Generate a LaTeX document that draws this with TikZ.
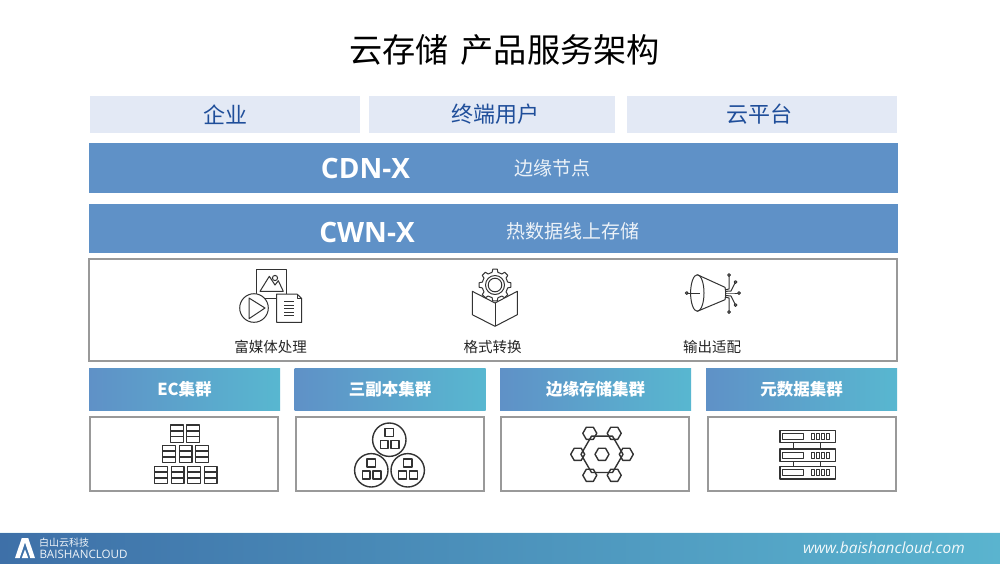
\documentclass[tikz,border=0pt]{standalone}
\usepackage{fontspec}
\setmainfont{Noto Sans CJK SC}
\newfontfamily\latinfont{Open Sans}
\usetikzlibrary{calc}
\definecolor{bandblue}{HTML}{5F91C7}
\definecolor{tealend}{HTML}{58B7D0}
\definecolor{paleblue}{HTML}{E3E9F5}
\definecolor{inkblue}{HTML}{1F4E9A}
\definecolor{framegray}{HTML}{999999}
\definecolor{iconink}{HTML}{333333}
\definecolor{footleft}{HTML}{3E70A8}
\definecolor{footright}{HTML}{5AB4CF}
\tikzset{
  userbox/.style={fill=paleblue, minimum height=37pt, inner sep=0pt, outer sep=0pt},
  usertext/.style={text=inkblue, font=\fontsize{22}{22}\selectfont, inner sep=0pt},
  band/.style={fill=bandblue, minimum width=809pt, inner sep=0pt, outer sep=0pt},
  bandtitle/.style={text=white, font=\latinfont\bfseries\fontsize{28}{28}\selectfont, inner sep=0pt},
  bandnote/.style={text=white!88!bandblue, font=\fontsize{19}{19}\selectfont, inner sep=0pt},
  frame/.style={fill=framegray, inner sep=0pt, outer sep=0pt},
  frameinner/.style={fill=white, inner sep=0pt, outer sep=0pt},
  clusterhead/.style={left color=bandblue, right color=tealend, text=white, font=\bfseries\fontsize{16.5}{17}\selectfont, minimum width=191pt, minimum height=42pt, inner sep=0pt, outer sep=0pt},
  iconlabel/.style={text=black!85, font=\fontsize{14.5}{15}\selectfont, inner sep=0pt},
  icon/.style={draw=iconink, line width=1pt, line join=round},
  heavyicon/.style={draw=iconink, line width=1.4pt, line join=round},
}
\begin{document}
\begin{tikzpicture}[x=1pt, y=-1pt]
\useasboundingbox (0,0) rectangle (1000,563);
\fill[white] (0,0) rectangle (1000,563);

\node[font=\fontsize{33.2}{34}\selectfont, inner sep=0pt] (title) at (504.5,50) {云存储\hspace{12pt}产品服务架构};

\node[userbox, minimum width=270pt] (enterprise) at (225,114.5) {};
\node[usertext] (enterprisetext) at (225,114.5) {企业};
\node[userbox, minimum width=246pt] (enduser) at (492,114.5) {};
\node[usertext] (endusertext) at (495,114.5) {终端用户};
\node[userbox, minimum width=270pt] (cloudplatform) at (762,114.5) {};
\node[usertext] (cloudplatformtext) at (759,114.5) {云平台};

\node[band, minimum height=50pt] (cdn) at (493.5,168) {};
\node[bandtitle] (cdntitle) at (365.5,168.5) {CDN-X};
\node[bandnote] (cdnnote) at (552.5,168) {边缘节点};
\node[band, minimum height=49pt] (cwn) at (493.5,228.5) {};
\node[bandtitle] (cwntitle) at (367,232) {CWN-X};
\node[bandnote] (cwnnote) at (572.5,231.5) {热数据线上存储};

\node[frame, minimum width=810pt, minimum height=104pt] (services) at (493,310) {};
\node[frameinner, minimum width=806pt, minimum height=100pt] (servicesinner) at (493,310) {};
\node[iconlabel] (media) at (270.5,346.5) {富媒体处理};
\node[iconlabel] (convert) at (492.5,346.5) {格式转换};
\node[iconlabel] (adapt) at (712,346.5) {输出适配};

\foreach \cx/\bx/\name/\txt in {184.5/184/ec/EC集群, 390/390/replica/三副本集群, 595.5/595/edge/边缘存储集群, 801.5/802/meta/元数据集群} {
  \node[clusterhead] (\name head) at (\cx,389.5) {\txt};
  \node[frame, minimum width=190pt, minimum height=76pt] (\name box) at (\bx,454) {};
  \node[frameinner, minimum width=186pt, minimum height=72pt] (\name inner) at (\bx,454) {};
}

% media icon
\draw[icon, fill=white] (256.7,269) rectangle (286.7,298.7);
\draw[icon] (260,291.3)--(269.3,276.3)--(275,285)--(278.3,280.7)--(283.3,291.3)--cycle;
\draw[icon] (275,278) circle[radius=2.6pt];
\draw[icon, fill=white] (254,308) circle[radius=14.3pt];
\draw[icon] (249,298)--(265,308)--(249,318.7)--cycle;
\draw[icon, fill=white] (276.7,294)--(297,294)--(301.7,298.5)--(301.7,322.3)--(276.7,322.3)--cycle;
\draw[icon] (297,294)--(297,298.5)--(301.7,298.5);
\foreach \y in {301.5,305,308.5,312,315.5} \draw[icon] (284,\y)--(294,\y);

% gear and cube icon
\begin{scope}[shift={(495,285)}]
\foreach \a in {0,45,...,315} \draw[icon] (\a-13:13)--(\a-8:16)--(\a+8:16)--(\a+13:13)--(\a+32:13);
\draw[icon] (0,0) circle[radius=9.5pt];
\draw[icon] (0,0) circle[radius=6.8pt];
\end{scope}
\draw[icon, fill=white] (472.3,291.3)--(495,303)--(517.3,291.3)--(517.3,314.7)--(495,326.3)--(472.3,314.7)--cycle;
\draw[icon] (495,303)--(495,326.3);

% horn icon
\draw[icon] (697.3,274.7)--(725,287.3) (697.3,311.3)--(725,299.7);
\draw[icon] (725,287.3) to[bend left=12] (725,299.7);
\draw[icon] (697.3,293) ellipse[x radius=6.7pt, y radius=18.3pt];
\draw[icon] (688,293)--(700,293);
\draw[icon] (686.7,293) circle[radius=1.4pt];
\foreach \ex/\ey/\mx/\my in {729/275/729/289, 735.5/282/731/291, 739/293/731/293, 735.5/305/731/296, 729/312/729/298} {
  \draw[icon] (725,{293+(\my-293)*.8})--(\mx,\my)--(\ex,\ey);
  \draw[icon, fill=white] (\ex,\ey) circle[radius=1.4pt];
}

% EC stacks
\foreach \sx/\sy in {170.7/425, 186.7/425, 162.7/445.3, 179.3/445.3, 195.7/445.3, 154.7/466.3, 171.3/466.3, 187.7/466.3, 204.3/466.3} {
  \draw[heavyicon] (\sx,\sy) rectangle ++(12.7,17.4);
  \draw[heavyicon] (\sx,\sy+5.8)--++(12.7,0) (\sx,\sy+11.6)--++(12.7,0);
}

% replica circles
\foreach \cx/\cy in {389.3/439.7, 371.3/470.3, 407.7/470.3} {
  \begin{scope}[shift={(\cx,\cy)}]
  \draw[heavyicon] (0,0) circle[radius=16.7pt];
  \draw[heavyicon] (-4.2,-11.3) rectangle (4.2,-3.2);
  \draw[heavyicon] (-9,.8) rectangle (-1.2,8.6);
  \draw[heavyicon] (1.7,.8) rectangle (9.6,8.6);
  \end{scope}
}

% edge hexagons
\begin{scope}[shift={(602,454.3)}]
\draw[heavyicon] (0:21)--(60:21)--(120:21)--(180:21)--(240:21)--(300:21)--cycle;
\foreach \hx/\hy in {0/0, 24.3/0, 12.2/21, -12.2/21, -24.3/0, -12.2/-21, 12.2/-21} {
  \draw[heavyicon, shift={(\hx,\hy)}] (0:7)--(60:7)--(120:7)--(180:7)--(240:7)--(300:7)--cycle;
}
\end{scope}

% metadata servers
\foreach \sy in {430.3, 449, 466.7} {
  \draw[heavyicon] (780,\sy) rectangle ++(55.7,12.4);
  \draw[icon] (782.5,\sy+3.2) rectangle ++(21,6);
  \foreach \dx in {811,816,821,826} \draw[icon] (\dx,\sy+3.2) rectangle ++(3.4,6);
}
\foreach \lx in {793,820.7} \draw[icon] (\lx,442.7)--(\lx,449) (\lx,461.4)--(\lx,466.7);

% footer
\fill[white!88!footright] (0,532) rectangle (1000,533.5);
\node[left color=footleft, right color=footright, minimum width=1000pt, minimum height=30pt, inner sep=0pt, outer sep=0pt] (footer) at (500,548.5) {};
\fill[white] (15,558)--(21.8,538)--(28.2,538)--(35,558)--(30.3,558)--(25,542.5)--(19.7,558)--cycle;
\fill[white] (21.8,558)--(25,549.5)--(28.2,558)--cycle;
\node[text=white!92!footleft, font=\fontsize{10}{10}\selectfont, inner sep=0pt, anchor=west] (brandcn) at (39,543) {白山云科技};
\node[text=white!92!footleft, font=\latinfont\fontsize{11.6}{11}\selectfont, inner sep=0pt, anchor=west] (branden) at (39.5,554.5) {BAISHANCLOUD};
\node[text=white!92!footright, font=\latinfont\itshape\fontsize{15.4}{15}\selectfont, inner sep=0pt, anchor=east] (website) at (965,547.5) {www.baishancloud.com};
\end{tikzpicture}
\end{document}
